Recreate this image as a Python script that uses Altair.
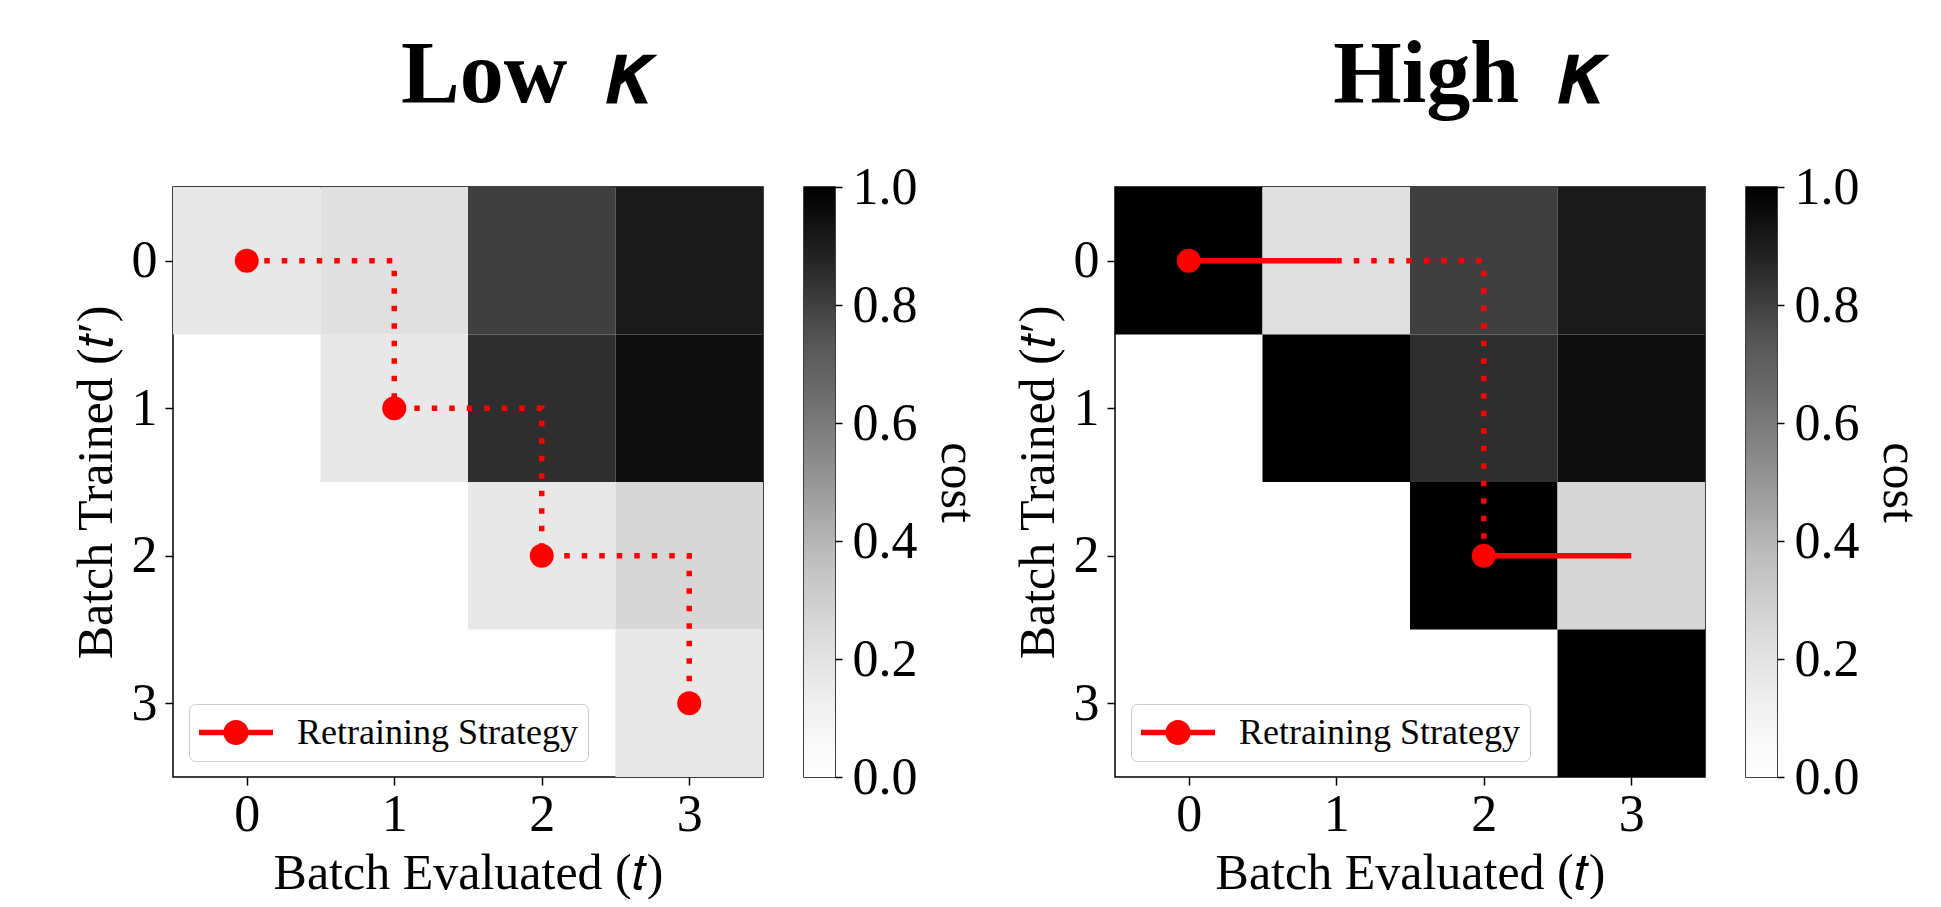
import altair as alt
import pandas as pd

# ---------------- data ----------------
batches = [0, 1, 2, 3]
# cost[t'][t]  (rows = batch trained t', columns = batch evaluated t); None = empty cell
cost_low = [
    [0.17, 0.21, 0.80, 0.92],
    [None, 0.17, 0.85, 0.966],
    [None, None, 0.17, 0.26],
    [None, None, None, 0.17],
]
cost_high = [
    [1.00, 0.21, 0.80, 0.92],
    [None, 1.00, 0.85, 0.966],
    [None, None, 1.00, 0.26],
    [None, None, None, 1.00],
]
# retraining strategy, Low kappa (all dotted)
low_dot_t = [0, 1, 1, 2, 2, 3, 3]
low_dot_tp = [0, 0, 1, 1, 2, 2, 3]
low_dot_seg = [0, 0, 0, 0, 0, 0, 0]
low_solid_t = []
low_solid_tp = []
low_solid_seg = []
low_pts_t = [0, 1, 2, 3]
low_pts_tp = [0, 1, 2, 3]
# retraining strategy, High kappa
high_dot_t = [1, 2, 2]
high_dot_tp = [0, 0, 2]
high_dot_seg = [0, 0, 0]
high_solid_t = [0, 1, 2, 3]
high_solid_tp = [0, 0, 2, 2]
high_solid_seg = [0, 0, 1, 1]
high_pts_t = [0, 2]
high_pts_tp = [0, 2]

# colour bar
cbar_lo = [0.0]
cbar_hi = [1.0]
cbar_ticks = [0.0, 0.2, 0.4, 0.6, 0.8, 1.0]
greys_stops = [0.0, 0.125, 0.25, 0.375, 0.5, 0.625, 0.75, 0.875, 1.0]
greys_colors = ["#ffffff", "#f0f0f0", "#d9d9d9", "#bdbdbd", "#969696",
                "#737373", "#525252", "#252525", "#000000"]

FONT = "Liberation Serif"
RED = "#ff0000"
LEGEND_PATH = ("M-1,-0.15L3,-0.15L3,0.15L-1,0.15Z "
               "M1.68,0A0.68,0.68 0 1,1 0.32,0A0.68,0.68 0 1,1 1.68,0Z")


def cells_df(cost):
    rows = []
    for i, tp in enumerate(batches):
        for j, t in enumerate(batches):
            v = cost[i][j]
            if v is None:
                continue
            rows.append({"t": t, "tp": tp, "x0": t - 0.5, "x1": t + 0.5,
                         "y0": tp - 0.5, "y1": tp + 0.5, "cost": v})
    return pd.DataFrame(rows)


def path_df(ts, tps, segs):
    return pd.DataFrame({"t": ts, "tp": tps, "seg": segs,
                         "ord": list(range(len(ts)))})


def main_view(cost, dot, solid, pts):
    xs = alt.Scale(domain=[-0.5, 3.5], nice=False, zero=False)
    ys = alt.Scale(domain=[-0.5, 3.5], nice=False, zero=False, reverse=True)
    xaxis = alt.Axis(values=batches, format="d", title="Batch Evaluated (𝑡)",
                     labelFontSize=52, titleFontSize=50, labelPadding=4,
                     titlePadding=8)
    yaxis = alt.Axis(values=batches, format="d", title="Batch Trained (𝑡′)",
                     labelFontSize=52, titleFontSize=50, labelPadding=8,
                     titlePadding=10)

    heat = alt.Chart(cells_df(cost)).mark_rect().encode(
        x=alt.X("x0:Q", scale=xs, axis=xaxis),
        x2="x1:Q",
        y=alt.Y("y0:Q", scale=ys, axis=yaxis),
        y2="y1:Q",
        color=alt.Color(
            "cost:Q",
            scale=alt.Scale(type="linear", domain=greys_stops, range=greys_colors),
            legend=None,
        ),
    )
    layers = [heat]
    if len(dot[0]):
        layers.append(
            alt.Chart(path_df(*dot)).mark_line(
                color=RED, strokeWidth=5.5, strokeDash=[5.5, 12], strokeCap="butt"
            ).encode(x=alt.X("t:Q", scale=xs), y=alt.Y("tp:Q", scale=ys),
                     detail="seg:N", order="ord:Q")
        )
    if len(solid[0]):
        layers.append(
            alt.Chart(path_df(*solid)).mark_line(
                color=RED, strokeWidth=5.5, strokeCap="butt"
            ).encode(x=alt.X("t:Q", scale=xs), y=alt.Y("tp:Q", scale=ys),
                     detail="seg:N", order="ord:Q")
        )
    pts_df = pd.DataFrame({"t": pts[0], "tp": pts[1]})
    layers.append(
        alt.Chart(pts_df).mark_point(
            filled=True, color=RED, size=576, opacity=1, shape="circle"
        ).encode(x=alt.X("t:Q", scale=xs), y=alt.Y("tp:Q", scale=ys))
    )
    leg_df = pd.DataFrame({"t": [pts[0][0]], "tp": [pts[1][0]],
                           "series": ["Retraining Strategy"]})
    layers.append(
        alt.Chart(leg_df).mark_point(filled=True, opacity=0, color=RED).encode(
            x=alt.X("t:Q", scale=xs), y=alt.Y("tp:Q", scale=ys),
            shape=alt.Shape(
                "series:N",
                scale=alt.Scale(domain=["Retraining Strategy"], range=[LEGEND_PATH]),
                legend=alt.Legend(
                    title=None, orient="none", legendX=16, legendY=517,
                    symbolSize=1369, symbolFillColor=RED, symbolStrokeColor=RED,
                    symbolStrokeWidth=0, symbolOpacity=1,
                    labelFontSize=36, labelFont=FONT, labelOffset=61,
                    labelColor="black", labelLimit=0,
                    padding=10, fillColor="white", strokeColor="#cccccc",
                    cornerRadius=6,
                ),
            ),
        )
    )
    return alt.layer(*layers).properties(width=590, height=590)


def colorbar_view():
    df = pd.DataFrame({"lo": cbar_lo, "hi": cbar_hi})
    grad = alt.LinearGradient(
        gradient="linear",
        stops=[alt.GradientStop(offset=o, color=c)
               for o, c in zip(greys_stops, greys_colors)],
        x1=0, x2=0, y1=1, y2=0,
    )
    return alt.Chart(df).mark_rect(color=grad).encode(
        y=alt.Y("lo:Q", scale=alt.Scale(domain=[0, 1], nice=False, zero=False),
                axis=alt.Axis(orient="right", values=cbar_ticks, format=".1f",
                              title="cost", titleAngle=90, titleFontSize=50,
                              labelFontSize=52, tickSize=7, labelPadding=10,
                              titlePadding=14)),
        y2="hi:Q",
    ).properties(width=31, height=590)


def panel(cost, title, dot, solid, pts):
    return alt.hconcat(
        main_view(cost, dot, solid, pts), colorbar_view(), spacing=39,
        title=alt.TitleParams(title, fontSize=88, font=FONT, fontWeight="bold",
                              offset=40, color="black", anchor="middle"),
    )


left = panel(cost_low, "Low \u2009𝜅",
             (low_dot_t, low_dot_tp, low_dot_seg),
             (low_solid_t, low_solid_tp, low_solid_seg),
             (low_pts_t, low_pts_tp))
right = panel(cost_high, "High \u2009𝜅",
              (high_dot_t, high_dot_tp, high_dot_seg),
              (high_solid_t, high_solid_tp, high_solid_seg),
              (high_pts_t, high_pts_tp))

chart = alt.hconcat(left, right, spacing=30).resolve_scale(
    color="independent", shape="independent", x="independent", y="independent"
).properties(
    padding={"left": 62, "top": 24, "right": 5, "bottom": 0},
    background="white",
).configure_view(
    stroke="black", strokeWidth=1.5
).configure_axis(
    domain=False, grid=False, tickColor="black", tickSize=8, tickWidth=1.5,
    labelFont=FONT, titleFont=FONT, labelColor="black", titleColor="black",
    titleFontWeight="normal",
)

chart.save("out.html", embed_options={"renderer": "svg", "actions": False})
